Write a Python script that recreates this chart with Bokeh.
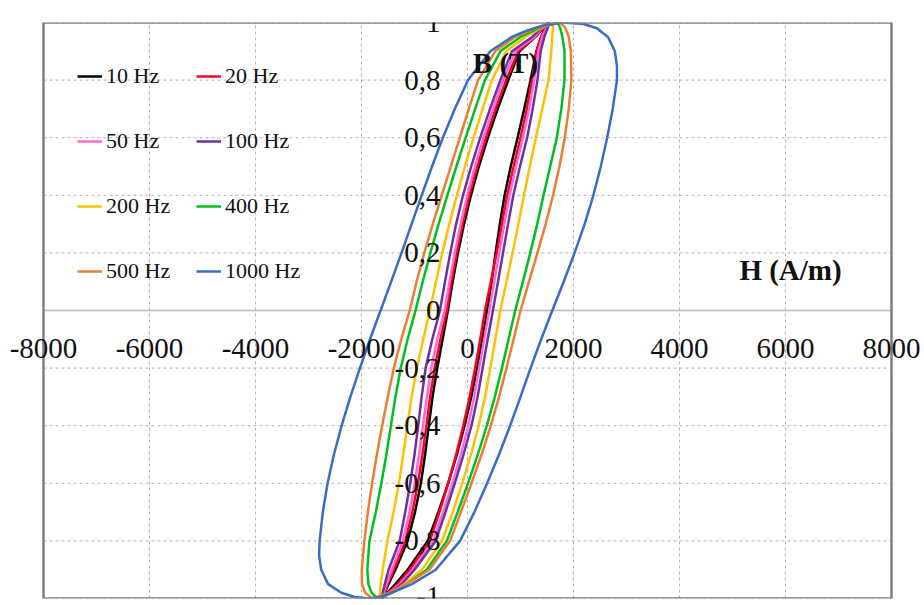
from bokeh.plotting import figure
from bokeh.models import Range1d, FixedTicker, Legend, LegendItem, Label
from bokeh.embed import file_html
from bokeh.resources import INLINE

# ---------------- data ----------------
FREQ_LABELS = ["10 Hz", "20 Hz", "50 Hz", "100 Hz", "200 Hz", "400 Hz", "500 Hz", "1000 Hz"]
COLORS = ["#000000", "#FF0022", "#FF66DD", "#7030A0", "#FFC000", "#00C020", "#ED7D31", "#3A6BC8"]

X_TICKS = [-8000, -6000, -4000, -2000, 0, 2000, 4000, 6000, 8000]
X_TICK_LABELS = ["-8000", "-6000", "-4000", "-2000", "0", "2000", "4000", "6000", "8000"]
Y_TICKS = [-1.0, -0.8, -0.6, -0.4, -0.2, 0.0, 0.2, 0.4, 0.6, 0.8, 1.0]
Y_TICK_LABELS = ["-1", "-0,8", "-0,6", "-0,4", "-0,2", "0", "0,2", "0,4", "0,6", "0,8", "1"]

# B levels (T): ascending (lower-right) branch and descending (upper-left) branch
B_ASC = [-1, -0.98, -0.95, -0.9, -0.8, -0.7, -0.6, -0.5, -0.4, -0.3, -0.2, -0.1, 0,
         0.1, 0.2, 0.3, 0.4, 0.5, 0.6, 0.7, 0.8, 0.9, 0.95, 0.98, 1]
B_DESC = [1, 0.98, 0.95, 0.9, 0.8, 0.7, 0.6, 0.5, 0.4, 0.3, 0.2, 0.1, 0,
          -0.1, -0.2, -0.3, -0.4, -0.5, -0.6, -0.7, -0.8, -0.9, -0.95, -0.98, -1]

# H (A/m)
H_ASC_10 = [-1620, -1510, -1360, -1130, -750, -550, -365, -200, -55, 70, 180, 280, 370,
            455, 530, 610, 700, 815, 945, 1070, 1190, 1300, 1390, 1470, 1530]
H_DESC_10 = [1530, 1430, 1280, 980, 770, 570, 385, 215, 65, -65, -180, -280, -370,
             -470, -570, -660, -730, -800, -880, -990, -1130, -1360, -1490, -1560, -1620]

H_ASC_20 = [-1620, -1490, -1320, -1090, -710, -530, -365, -215, -80, 40, 145, 240, 330,
            440, 550, 650, 750, 870, 1000, 1120, 1220, 1300, 1390, 1470, 1530]
H_DESC_20 = [1530, 1410, 1280, 960, 730, 530, 350, 185, 35, -95, -205, -305, -390,
             -510, -620, -705, -775, -850, -935, -1040, -1170, -1390, -1510, -1560, -1620]

H_ASC_50 = [-1620, -1470, -1280, -1030, -650, -460, -285, -125, 15, 125, 220, 315, 410,
            505, 600, 695, 795, 915, 1045, 1160, 1260, 1340, 1410, 1490, 1550]
H_DESC_50 = [1550, 1410, 1260, 900, 670, 480, 300, 140, -5, -130, -240, -340, -430,
             -570, -685, -765, -840, -915, -995, -1095, -1220, -1430, -1530, -1580, -1620]

H_ASC_100 = [-1620, -1450, -1240, -1000, -600, -415, -240, -75, 75, 190, 285, 380, 480,
             575, 670, 765, 865, 990, 1125, 1230, 1320, 1380, 1450, 1510, 1550]
H_DESC_100 = [1550, 1390, 1220, 840, 620, 425, 240, 70, -85, -215, -325, -425, -520,
              -665, -790, -865, -930, -1000, -1080, -1175, -1280, -1490, -1560, -1600, -1620]

H_ASC_200 = [-1660, -1430, -1190, -860, -480, -280, -100, 65, 210, 330, 430, 525, 620,
             735, 850, 960, 1065, 1175, 1290, 1410, 1530, 1580, 1600, 1610, 1620]
H_DESC_200 = [1620, 1380, 1090, 730, 460, 285, 115, -50, -200, -345, -475, -595, -710,
              -835, -955, -1055, -1135, -1210, -1295, -1395, -1510, -1600, -1640, -1650, -1660]

H_ASC_400 = [-1700, -1430, -1150, -770, -390, -185, 10, 195, 365, 515, 650, 775, 900,
             1045, 1185, 1315, 1435, 1560, 1685, 1770, 1830, 1830, 1790, 1750, 1700]
H_DESC_400 = [1700, 1340, 1000, 620, 330, 145, -35, -210, -380, -545, -700, -845, -980,
              -1130, -1260, -1360, -1445, -1530, -1625, -1730, -1850, -1890, -1870, -1810, -1700]

H_ASC_500 = [-1790, -1480, -1150, -720, -330, -125, 75, 265, 440, 595, 735, 870, 1000,
             1160, 1320, 1475, 1615, 1735, 1835, 1910, 1960, 1950, 1910, 1850, 1750]
H_DESC_500 = [1750, 1280, 900, 520, 200, 25, -145, -315, -485, -655, -815, -960, -1090,
              -1250, -1390, -1505, -1610, -1710, -1800, -1880, -1945, -1995, -1990, -1930, -1790]

B_ASC_1000 = [-1, -0.995, -0.98, -0.95, -0.9, -0.8, -0.7, -0.6, -0.5, -0.4, -0.3, -0.2, -0.1, 0,
              0.1, 0.2, 0.3, 0.4, 0.5, 0.6, 0.7, 0.8, 0.85, 0.9, 0.95, 0.98, 0.995, 1]
H_ASC_1000 = [-1850, -1660, -1430, -1050, -600, -140, 130, 370, 595, 805, 1000, 1190, 1390, 1600,
              1815, 2020, 2210, 2375, 2515, 2635, 2740, 2820, 2820, 2780, 2650, 2440, 2190, 1810]
B_DESC_1000 = [1, 0.99, 0.97, 0.95, 0.9, 0.8, 0.7, 0.6, 0.5, 0.4, 0.3, 0.2, 0.1, 0,
               -0.1, -0.2, -0.3, -0.4, -0.5, -0.6, -0.7, -0.8, -0.85, -0.9, -0.95, -0.98, -0.995, -1]
H_DESC_1000 = [1810, 1430, 1090, 840, 430, 10, -240, -465, -670, -865, -1055, -1245, -1440, -1640,
               -1840, -2030, -2210, -2375, -2520, -2640, -2730, -2790, -2800, -2760, -2630, -2380, -2130, -1850]

SERIES = [
    (H_ASC_10, B_ASC, H_DESC_10, B_DESC),
    (H_ASC_20, B_ASC, H_DESC_20, B_DESC),
    (H_ASC_50, B_ASC, H_DESC_50, B_DESC),
    (H_ASC_100, B_ASC, H_DESC_100, B_DESC),
    (H_ASC_200, B_ASC, H_DESC_200, B_DESC),
    (H_ASC_400, B_ASC, H_DESC_400, B_DESC),
    (H_ASC_500, B_ASC, H_DESC_500, B_DESC),
    (H_ASC_1000, B_ASC_1000, H_DESC_1000, B_DESC_1000),
]

FONT = "Liberation Serif"
TICK_FONT_SIZE = "29px"

# ---------------- layout ----------------
W, H = 924, 605
BOX_LEFT, BOX_RIGHT = 43, 891          # pixel columns of the boxed plot area
XMIN, XMAX = X_TICKS[0], X_TICKS[-1]
per_px = (XMAX - XMIN) / (BOX_RIGHT - BOX_LEFT)
x_lo = XMIN - BOX_LEFT * per_px
x_hi = XMAX + (W - BOX_RIGHT) * per_px

p = figure(width=W, height=H,
           x_range=Range1d(x_lo, x_hi), y_range=Range1d(Y_TICKS[0], Y_TICKS[-1]),
           output_backend="svg", toolbar_location=None,
           min_border_left=0, min_border_right=0,
           min_border_top=22, min_border_bottom=7)

p.background_fill_color = "white"
p.border_fill_color = "white"
p.outline_line_color = None
p.xgrid.visible = False
p.ygrid.visible = False

# dashed grid inside the box
GRID_COLOR = "#B4B4B4"
p.segment(x0=X_TICKS, y0=Y_TICKS[0], x1=X_TICKS, y1=Y_TICKS[-1],
          line_color=GRID_COLOR, line_dash="3 3", line_width=1)
p.segment(x0=XMIN, y0=Y_TICKS, x1=XMAX, y1=Y_TICKS,
          line_color=GRID_COLOR, line_dash="3 3", line_width=1)
# horizontal axis line at B = 0
p.segment(x0=[XMIN], y0=[0], x1=[XMAX], y1=[0], line_color="#BBBBBB", line_width=1.5)

# axes crossing at the origin (labels only)
p.xaxis.fixed_location = 0
p.yaxis.fixed_location = 0
p.xaxis.ticker = FixedTicker(ticks=X_TICKS)
p.yaxis.ticker = FixedTicker(ticks=Y_TICKS)
p.xaxis.major_label_overrides = dict(zip(X_TICKS, X_TICK_LABELS))
p.yaxis.major_label_overrides = dict(zip(Y_TICKS, Y_TICK_LABELS))
for ax in (p.xaxis, p.yaxis):
    ax.major_tick_in = 0
    ax.major_tick_out = 0
    ax.minor_tick_in = 0
    ax.minor_tick_out = 0
    ax.axis_line_color = None
    ax.major_label_text_font = FONT
    ax.major_label_text_font_size = TICK_FONT_SIZE
    ax.major_label_text_color = "#111111"
p.xaxis.major_label_standoff = 28
p.yaxis.major_label_standoff = 27

# curves
renderers = []
for (ha, ba, hd, bd), col in zip(SERIES, COLORS):
    xs = list(ha) + list(hd[1:])
    ys = list(ba) + list(bd[1:])
    r = p.line(xs, ys, line_color=col, line_width=2.5, line_join="round")
    renderers.append(r)

# box around the plot area
p.quad(left=[XMIN], right=[XMAX], bottom=[Y_TICKS[0]], top=[Y_TICKS[-1]],
       fill_color=None, line_color="#7F7F7F", line_width=2.5)

# legends (two columns)
leg1 = Legend(items=[LegendItem(label=FREQ_LABELS[i], renderers=[renderers[i]]) for i in (0, 2, 4, 6)],
              location=(77, 314))
leg2 = Legend(items=[LegendItem(label=FREQ_LABELS[i], renderers=[renderers[i]]) for i in (1, 3, 5, 7)],
              location=(196, 314))
for lg in (leg1, leg2):
    lg.border_line_color = None
    lg.background_fill_alpha = 0
    lg.padding = 0
    lg.margin = 0
    lg.spacing = 39
    lg.glyph_width = 25
    lg.glyph_height = 20
    lg.label_height = 20
    lg.label_standoff = 4
    lg.label_text_font = FONT
    lg.label_text_font_size = "22px"
    lg.label_text_color = "#111111"
    p.add_layout(lg, "center")

# axis titles
p.add_layout(Label(x=100, y=0.86, text="B (T)", text_font=FONT, text_font_style="bold",
                   text_font_size="29px", text_baseline="middle", text_color="#111111"))
p.add_layout(Label(x=5130, y=0.14, text="H (A/m)", text_font=FONT, text_font_style="bold",
                   text_font_size="29px", text_baseline="middle", text_color="#111111"))

open("out.html", "w").write(file_html(p, INLINE))
